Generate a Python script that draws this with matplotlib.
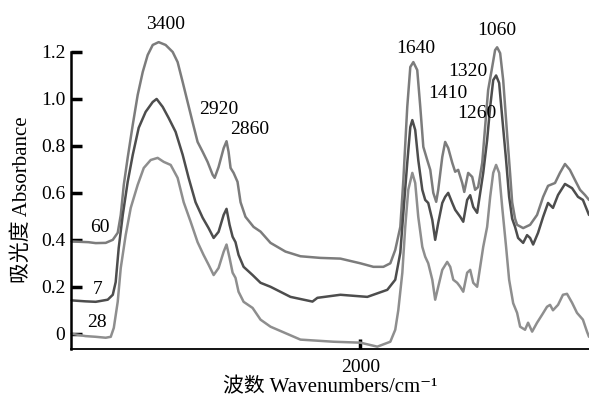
import matplotlib
matplotlib.use("Agg")
import matplotlib.pyplot as plt

plt.rcParams['font.family'] = ['Liberation Serif', 'DejaVu Serif', 'Noto Sans CJK SC']

# Spectrum for sample "60" (upper curve)
wn_60 = [3995, 3880, 3829, 3760, 3711, 3677, 3656, 3635, 3608, 3573, 3539, 3504,
         3470, 3435, 3394, 3346, 3297, 3263, 3228, 3194, 3159, 3125, 3090, 3056,
         3021, 3007, 2980, 2945, 2925, 2911, 2897, 2876, 2849, 2828, 2794, 2738,
         2690, 2621, 2518, 2414, 2276, 2138, 2000, 1910, 1841, 1793, 1759, 1724,
         1703, 1676, 1655, 1634, 1607, 1586, 1565, 1538, 1517, 1496, 1476, 1462,
         1434, 1414, 1393, 1365, 1345, 1324, 1296, 1282, 1255, 1227, 1207, 1186,
         1158, 1138, 1117, 1089, 1069, 1055, 1034, 1013, 986, 965, 951, 931,
         917, 875, 827, 779, 737, 703, 655, 621, 586, 552, 517, 482, 448, 420]
abs_60 = [0.393, 0.39, 0.386, 0.387, 0.40, 0.43, 0.506, 0.634, 0.75, 0.89, 1.017, 1.115,
          1.187, 1.23, 1.242, 1.23, 1.20, 1.157, 1.072, 0.987, 0.90, 0.817, 0.775, 0.732,
          0.677, 0.664, 0.71, 0.79, 0.82, 0.775, 0.706, 0.685, 0.647, 0.56, 0.498, 0.455,
          0.435, 0.387, 0.35, 0.33, 0.323, 0.32, 0.30, 0.285, 0.285, 0.30, 0.357, 0.455,
          0.655, 0.966, 1.136, 1.157, 1.123, 0.966, 0.796, 0.74, 0.698, 0.60, 0.562, 0.613,
          0.753, 0.817, 0.791, 0.728, 0.69, 0.698, 0.642, 0.604, 0.685, 0.668, 0.613, 0.625,
          0.728, 0.88, 1.038, 1.136, 1.208, 1.22, 1.195, 1.08, 0.85, 0.68, 0.56, 0.49,
          0.464, 0.45, 0.464, 0.506, 0.583, 0.63, 0.642, 0.685, 0.723, 0.698, 0.655, 0.613,
          0.591, 0.57]

# Spectrum for sample "7" (middle curve)
wn_7 = [3995, 3900, 3829, 3746, 3711, 3691, 3670, 3642, 3608, 3573, 3532, 3484,
        3435, 3408, 3366, 3325, 3277, 3228, 3187, 3139, 3090, 3049, 3014, 2980,
        2945, 2925, 2904, 2883, 2863, 2842, 2807, 2745, 2690, 2621, 2483, 2331,
        2297, 2138, 1952, 1814, 1759, 1724, 1703, 1676, 1655, 1641, 1621, 1600,
        1572, 1552, 1531, 1503, 1483, 1462, 1434, 1414, 1393, 1365, 1345, 1310,
        1289, 1262, 1241, 1220, 1193, 1172, 1151, 1124, 1103, 1082, 1062, 1041,
        1020, 993, 972, 951, 931, 910, 875, 848, 827, 806, 772, 737,
        703, 669, 634, 586, 537, 496, 462, 420]
abs_7 = [0.142, 0.138, 0.136, 0.145, 0.166, 0.22, 0.366, 0.506, 0.647, 0.762, 0.877, 0.945,
         0.987, 1.0, 0.966, 0.919, 0.86, 0.762, 0.664, 0.56, 0.494, 0.45, 0.408, 0.434,
         0.506, 0.532, 0.464, 0.413, 0.39, 0.336, 0.285, 0.25, 0.217, 0.20, 0.157, 0.137,
         0.153, 0.166, 0.157, 0.187, 0.23, 0.345, 0.515, 0.728, 0.88, 0.91, 0.868, 0.74,
         0.613, 0.57, 0.557, 0.485, 0.40, 0.472, 0.557, 0.583, 0.60, 0.557, 0.528, 0.498,
         0.477, 0.57, 0.59, 0.54, 0.515, 0.60, 0.685, 0.825, 0.966, 1.08, 1.10, 1.068,
         0.923, 0.74, 0.583, 0.49, 0.455, 0.408, 0.387, 0.42, 0.408, 0.38, 0.43, 0.498,
         0.557, 0.536, 0.591, 0.638, 0.62, 0.583, 0.57, 0.506]

# Spectrum for sample "28" (lower curve)
wn_28 = [3995, 3900, 3829, 3760, 3725, 3704, 3677, 3656, 3622, 3587, 3539, 3497,
         3449, 3401, 3359, 3311, 3263, 3221, 3173, 3125, 3084, 3049, 3014, 2980,
         2945, 2925, 2904, 2883, 2863, 2842, 2807, 2745, 2690, 2621, 2414, 2186,
         2000, 1883, 1793, 1759, 1738, 1710, 1690, 1669, 1641, 1621, 1600, 1572,
         1552, 1531, 1503, 1483, 1462, 1434, 1400, 1379, 1358, 1331, 1310, 1289,
         1262, 1241, 1220, 1193, 1172, 1151, 1124, 1103, 1082, 1062, 1041, 1020,
         993, 972, 944, 917, 896, 862, 841, 813, 779, 744, 710, 689,
         669, 634, 600, 572, 537, 503, 462, 434, 420]
abs_28 = [0.0, -0.01, -0.013, -0.017, -0.013, 0.025, 0.136, 0.28, 0.42, 0.536, 0.634, 0.706,
          0.74, 0.749, 0.732, 0.719, 0.664, 0.56, 0.477, 0.39, 0.336, 0.294, 0.25, 0.28,
          0.349, 0.38, 0.323, 0.26, 0.238, 0.179, 0.136, 0.11, 0.06, 0.03, -0.025, -0.034,
          -0.038, -0.055, -0.034, 0.017, 0.10, 0.26, 0.455, 0.613, 0.685, 0.642, 0.498, 0.37,
          0.328, 0.30, 0.23, 0.145, 0.20, 0.272, 0.306, 0.285, 0.23, 0.217, 0.20, 0.179,
          0.26, 0.272, 0.217, 0.20, 0.285, 0.37, 0.455, 0.583, 0.685, 0.719, 0.685, 0.54,
          0.37, 0.23, 0.13, 0.089, 0.03, 0.017, 0.047, 0.009, 0.047, 0.081, 0.115, 0.123,
          0.10, 0.123, 0.166, 0.17, 0.132, 0.089, 0.06, 0.009, -0.013]

# Peak annotations
peak_labels = ["3400", "2920", "2860", "1640", "1410", "1320", "1260", "1060"]
peak_wn = [3345, 2980, 2766, 1615, 1393, 1255, 1193, 1060]
peak_y = [1.315, 0.953, 0.868, 1.213, 1.025, 1.115, 0.94, 1.29]

curve_names = ["60", "7", "28"]
curve_label_wn = [3801, 3815, 3822]
curve_label_y = [0.451, 0.187, 0.047]

yticks = [0, 0.2, 0.4, 0.6, 0.8, 1.0, 1.2]
ytick_labels = ["0", "0.2", "0.4", "0.6", "0.8", "1.0", "1.2"]
xticks = [2000]
xtick_labels = ["2000"]

fig = plt.figure(figsize=(5.89, 3.99), dpi=100)
ax = fig.add_axes([0.1205, 0.1253, 0.8795, 0.7444])

kw = dict(lw=1.8, clip_on=False, solid_joinstyle="round", solid_capstyle="round")
ax.plot(wn_60, abs_60, color="#7c7c7c", **kw)
ax.plot(wn_7, abs_7, color="#4d4d4d", **kw)
ax.plot(wn_28, abs_28, color="#8e8e8e", **kw)

ax.set_xlim(4000, 420)
ax.set_ylim(-0.065, 1.2)

for s in ["top", "right"]:
    ax.spines[s].set_visible(False)
ax.spines["left"].set_linewidth(1.8)
ax.spines["bottom"].set_linewidth(1.3)

ax.set_yticks(yticks)
ax.set_yticklabels(ytick_labels)
ax.set_xticks(xticks)
ax.set_xticklabels(xtick_labels)
ax.tick_params(axis="y", direction="in", length=8, width=2.5, labelsize=14, pad=4)
ax.tick_params(axis="x", direction="in", length=7, width=2.5, labelsize=14, pad=7)

for lab, w, y in zip(peak_labels, peak_wn, peak_y):
    ax.text(w, y, lab, fontsize=14, ha="center", va="center", clip_on=False)
for lab, w, y in zip(curve_names, curve_label_wn, curve_label_y):
    ax.text(w, y, lab, fontsize=14, ha="center", va="center")

fig.text(0.037, 0.499, "吸光度 Absorbance", rotation=90, fontsize=15,
         ha="center", va="center")
fig.text(0.561, 0.028, "波数 Wavenumbers/cm⁻¹", fontsize=15,
         ha="center", va="center")

fig.savefig("out.png", dpi=100)
